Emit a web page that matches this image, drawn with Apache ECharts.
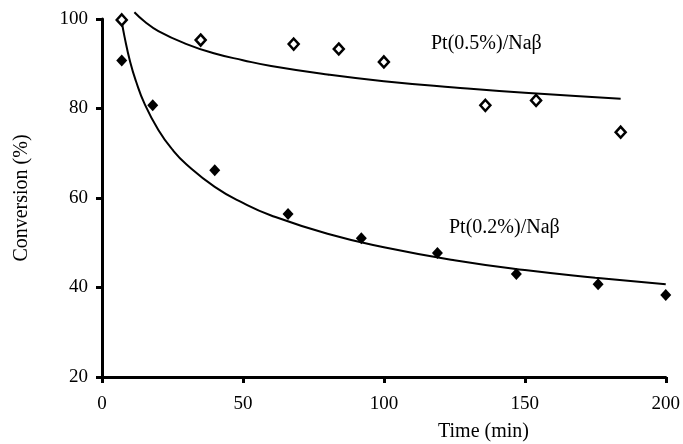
<!DOCTYPE html>
<html>
<head>
<meta charset="utf-8">
<script src="https://cdn.jsdelivr.net/npm/echarts@6/dist/echarts.min.js"></script>
<style>html,body{margin:0;padding:0;background:#fff;}#c{width:683px;height:444px;}</style>
</head>
<body>
<div id="c"></div>
<script>
// Measured data points (time in min, conversion in %)
var pt05Time = [7, 35, 68, 84, 100, 136, 154, 184];
var pt05Conv = [99.8, 95.3, 94.4, 93.3, 90.4, 80.7, 81.8, 74.7];
var pt02Time = [7, 18, 40, 66, 92, 119, 147, 176, 200];
var pt02Conv = [90.7, 80.7, 66.2, 56.4, 51.0, 47.7, 43.0, 40.7, 38.3];
// Trend curves
var trend05Time = [11.5, 15, 20, 30, 40, 50, 60, 80, 100, 125, 150, 184];
var trend05Conv = [101.5, 99.5, 97.3, 94.4, 92.3, 90.8, 89.5, 87.6, 86.1, 84.7, 83.5, 82.2];
var trend02Time = [7, 8, 10, 12, 15, 20, 25, 30, 40, 50, 60, 80, 100, 125, 150, 175, 200];
var trend02Conv = [99.5, 96.0, 90.4, 86.2, 81.2, 75.2, 70.8, 67.5, 62.5, 58.9, 56.1, 52.0, 49.0, 46.1, 43.9, 42.2, 40.7];
var xTicks = [0, 50, 100, 150, 200];
var yTicks = [20, 40, 60, 80, 100];
var labels = ['Pt(0.5%)/Naβ', 'Pt(0.2%)/Naβ'];

function zip(a, b) { return a.map(function (v, i) { return [v, b[i]]; }); }

var font = 'Liberation Serif';
var chart = echarts.init(document.getElementById('c'), null, {renderer: 'canvas'});
var axisCommon = {
  axisLine: {show: true, lineStyle: {color: '#000', width: 3}},
  axisTick: {show: true, inside: false, length: 6, lineStyle: {color: '#000', width: 3}},
  splitLine: {show: false},
  axisLabel: {color: '#000', fontFamily: font, fontSize: 19}
};
chart.setOption({
  animation: false,
  backgroundColor: '#fff',
  grid: {left: 102, right: 17, top: 19, bottom: 67},
  xAxis: Object.assign({}, axisCommon, {
    type: 'value', min: xTicks[0], max: xTicks[xTicks.length - 1], interval: 50,
    axisLabel: Object.assign({}, axisCommon.axisLabel, {margin: 18})
  }),
  yAxis: Object.assign({}, axisCommon, {
    type: 'value', min: yTicks[0], max: yTicks[yTicks.length - 1], interval: 20,
    name: 'Conversion (%)', nameLocation: 'middle', nameGap: 70,
    nameTextStyle: {color: '#000', fontFamily: font, fontSize: 20},
    axisLabel: Object.assign({}, axisCommon.axisLabel, {margin: 14})
  }),
  series: [
    {type: 'line', data: zip(trend05Time, trend05Conv), smooth: true, showSymbol: false, clip: false,
     lineStyle: {color: '#000', width: 2}, z: 2},
    {type: 'line', data: zip(trend02Time, trend02Conv), smooth: true, showSymbol: false,
     lineStyle: {color: '#000', width: 2}, z: 2},
    {type: 'scatter', data: zip(pt05Time, pt05Conv), symbol: 'diamond', symbolSize: [10, 11],
     itemStyle: {color: '#fff', borderColor: '#000', borderWidth: 2.5, opacity: 1}, z: 3},
    {type: 'scatter', data: zip(pt02Time, pt02Conv), symbol: 'diamond', symbolSize: [11, 12],
     itemStyle: {color: '#000', opacity: 1}, z: 3}
  ],
  graphic: [
    {type: 'text', left: 431, top: 34, style: {text: labels[0], fill: '#000', font: '20px "Liberation Serif"'}},
    {type: 'text', left: 449, top: 218, style: {text: labels[1], fill: '#000', font: '20px "Liberation Serif"'}},
    {type: 'text', left: 438, top: 422, style: {text: 'Time (min)', fill: '#000', font: '20px "Liberation Serif"'}}
  ]
});
</script>
</body>
</html>
